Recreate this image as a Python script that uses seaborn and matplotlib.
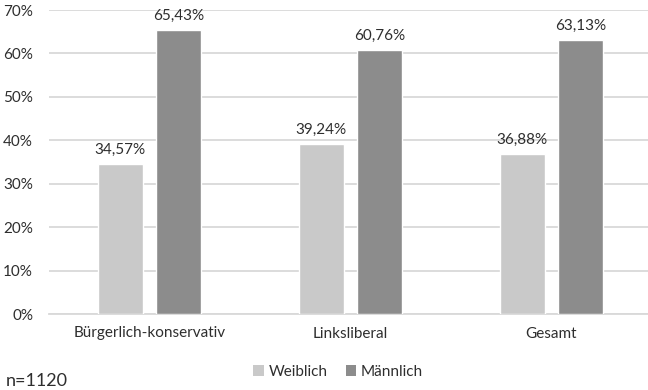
import matplotlib
matplotlib.use("Agg")
import matplotlib.pyplot as plt
import seaborn as sns
import pandas as pd
from matplotlib.patches import Patch

categories = ["Bürgerlich-konservativ", "Linksliberal", "Gesamt"]
series_names = ["Weiblich", "Männlich"]
weiblich = [34.57, 39.24, 36.88]
maennlich = [65.43, 60.76, 63.13]
y_ticks = [0, 10, 20, 30, 40, 50, 60, 70]
note = "n=1120"

colors = {"Weiblich": "#c9c9c9", "Männlich": "#8c8c8c"}
text_color = "#2e2e2e"
grid_color = "#d9d9d9"
fs = 11

df = pd.DataFrame({
    "Kategorie": categories * 2,
    "Geschlecht": [series_names[0]] * 3 + [series_names[1]] * 3,
    "Anteil": weiblich + maennlich,
})

sns.set_theme(style="white")
plt.rcParams["font.family"] = ["Lato", "DejaVu Sans"]

fig = plt.figure(figsize=(6.48, 3.9), dpi=100)
ax = fig.add_axes([49 / 648, 1 - 314 / 390, 603 / 648, 304 / 390])

sns.barplot(data=df, x="Kategorie", y="Anteil", hue="Geschlecht",
            order=categories, hue_order=series_names, palette=colors,
            width=0.58, gap=0.24, saturation=1, legend=False, ax=ax, zorder=3)

ax.set_xlim(-0.5, 2.5)
ax.set_ylim(0, 70)
ax.set_yticks(y_ticks)
ax.set_yticklabels([f"{v}%" for v in y_ticks], color=text_color, fontsize=fs)
ax.grid(axis="y", color=grid_color, linewidth=1.3, zorder=0)
ax.set_axisbelow(True)
for side in ["left", "right", "top"]:
    ax.spines[side].set_visible(False)
ax.spines["bottom"].set_color(grid_color)
ax.spines["bottom"].set_linewidth(1.3)
ax.tick_params(axis="y", length=0, pad=11.5)
ax.tick_params(axis="x", which="major", length=0, pad=9)
ax.set_xticks([-0.5, 0.5, 1.5, 2.5], minor=True)
ax.tick_params(axis="x", which="minor", length=5, color=grid_color, width=1.3)
ax.set_xticklabels(categories, color=text_color, fontsize=fs)
ax.set_xlabel("")
ax.set_ylabel("")

for container in ax.containers:
    labels = [f"{bar.get_height():.2f}%".replace(".", ",") for bar in container]
    ax.bar_label(container, labels=labels, padding=5, color=text_color, fontsize=fs)

handles = [Patch(facecolor=colors[n], edgecolor="none", label=n) for n in series_names]
fig.legend(handles=handles, loc="center", bbox_to_anchor=(338 / 648, 1 - 372 / 390),
           ncol=2, frameon=False, fontsize=fs, handlelength=0.7, handleheight=0.7,
           handletextpad=0.3, columnspacing=1.2, labelcolor=text_color)

fig.text(6 / 648, 1 - 381 / 390, note, fontsize=13, color=text_color, va="center", ha="left")

fig.savefig("out.png", dpi=100)
